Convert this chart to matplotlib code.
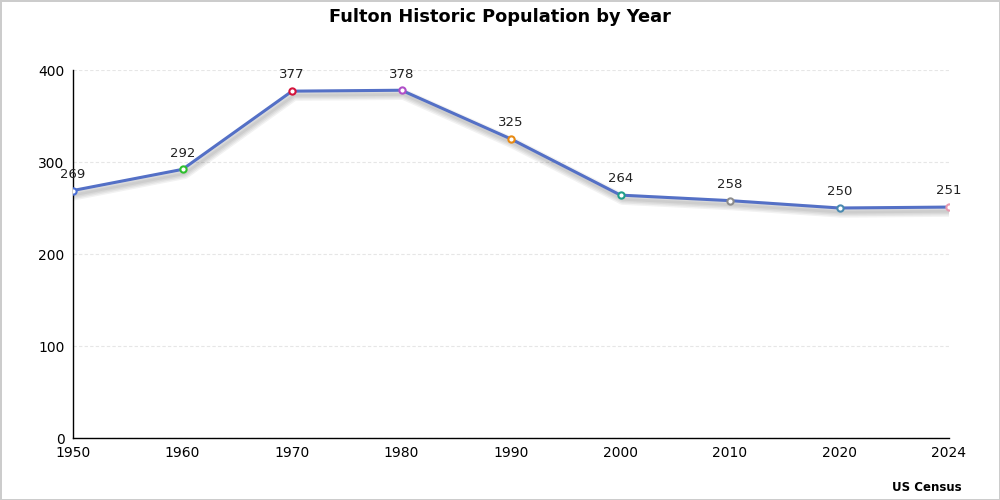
import matplotlib.pyplot as plt
import matplotlib.patheffects as pe

years = ["1950", "1960", "1970", "1980", "1990", "2000", "2010", "2020", "2024"]
population = [269, 292, 377, 378, 325, 264, 258, 250, 251]
point_colors = ["#4a6fd6", "#2fbf2f", "#d4143c", "#b04fc8", "#e88a12",
                "#1f9e8a", "#8c8c8c", "#4a8ab0", "#e89ab0"]
y_ticks = [0, 100, 200, 300, 400]

fig = plt.figure(figsize=(10, 5), dpi=100)
fig.patch.set_edgecolor("#cccccc")
fig.patch.set_linewidth(2)

ax = fig.add_axes([0.073, 0.124, 0.876, 0.736])
x = list(range(len(years)))

# ombre floue sous la ligne (plusieurs couches)
ombre = [pe.SimpleLineShadow(offset=(1.5, -3), shadow_color="black", alpha=0.05, linewidth=lw)
         for lw in (2, 4, 6, 8)]
ax.plot(x, population, color="#5470c6", linewidth=2.2, zorder=3,
        path_effects=ombre + [pe.Normal()])
for xi, yi, c in zip(x, population, point_colors):
    ax.plot(xi, yi, marker="o", markersize=4.5, markerfacecolor="white",
            markeredgecolor=c, markeredgewidth=1.5, zorder=4)
    ax.annotate(str(yi), (xi, yi), xytext=(0, 7), textcoords="offset points",
                ha="center", va="bottom", fontsize=9.5, color="#222222")

ax.set_xlim(0, len(years) - 1)
ax.set_ylim(0, 400)
ax.set_xticks(x)
ax.set_xticklabels(years)
ax.set_yticks(y_ticks)
ax.tick_params(axis="x", length=0, labelsize=10, pad=6)
ax.tick_params(axis="y", length=0, labelsize=10, pad=6)
for lab in ax.get_yticklabels():
    lab.set_y(0)
ax.grid(axis="y", color="#e6e6e6", linestyle=(0, (3, 2)), linewidth=0.8)
ax.set_axisbelow(True)
for s in ["top", "right"]:
    ax.spines[s].set_visible(False)
ax.spines["left"].set_linewidth(1)
ax.spines["bottom"].set_linewidth(1)

fig.text(0.5, 0.965, "Fulton Historic Population by Year", ha="center", va="center",
         fontsize=12.8, fontweight="bold")
fig.text(0.962, 0.025, "US Census", ha="right", va="center", fontsize=8.5, fontweight="bold")

fig.savefig("out.png", dpi=100, edgecolor=fig.get_edgecolor())
